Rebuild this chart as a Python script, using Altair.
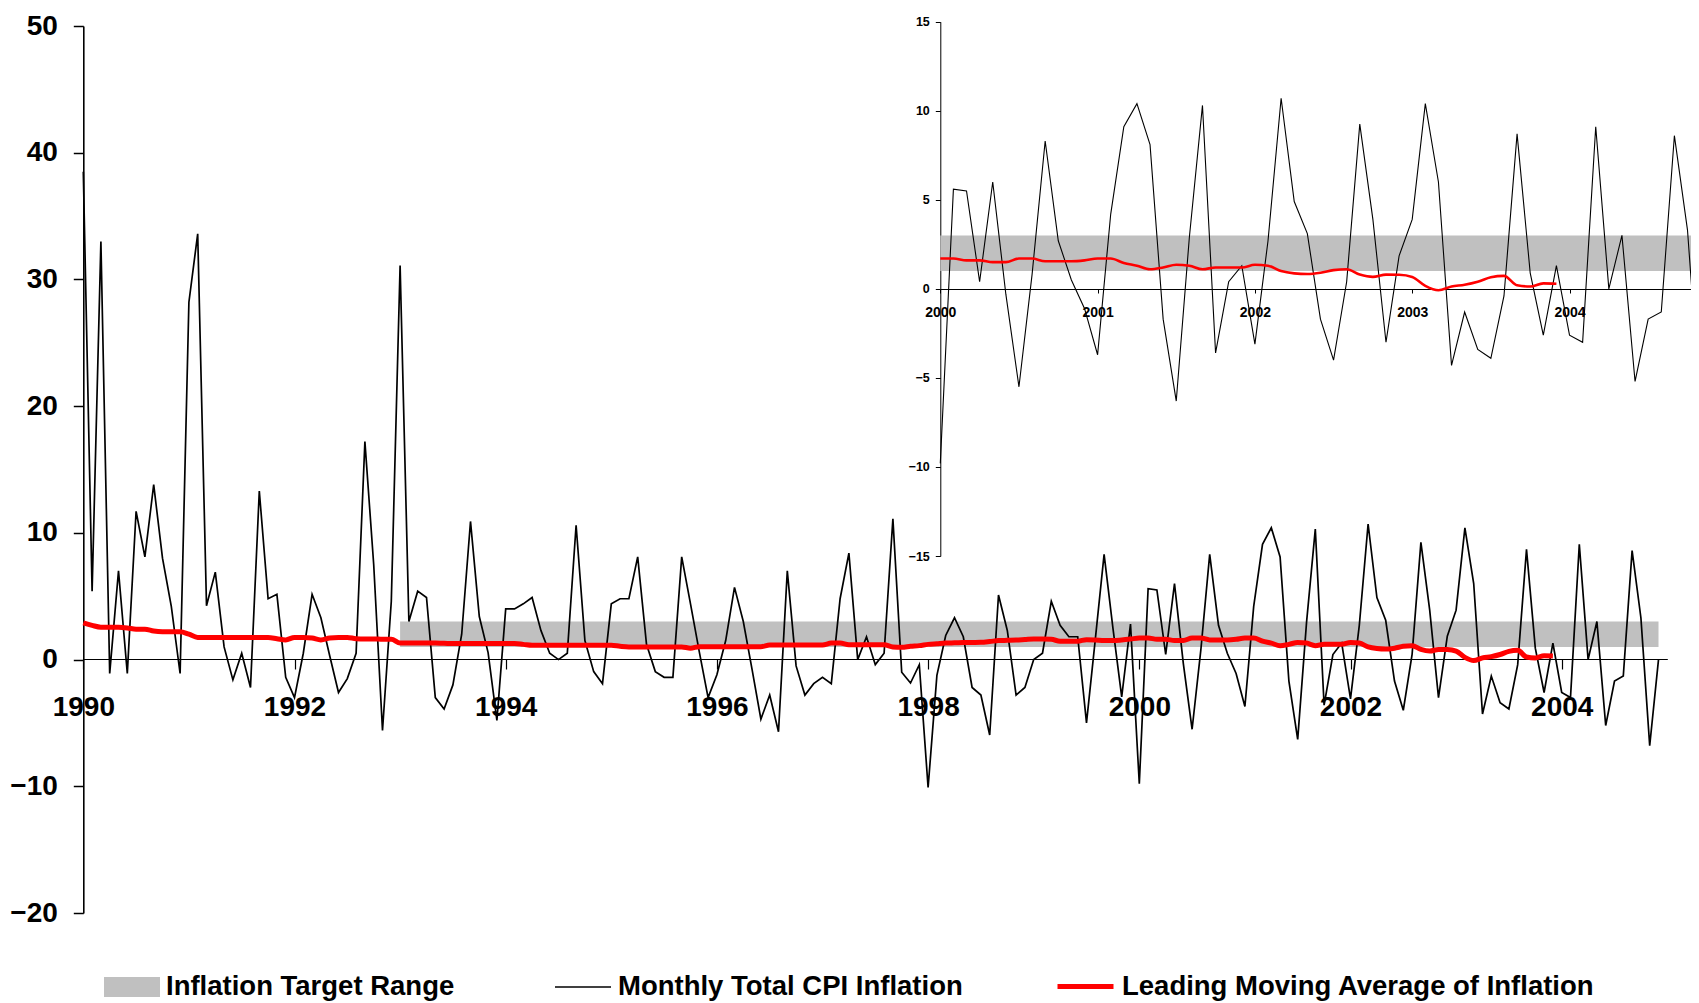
import altair as alt
import pandas as pd

# ---------------- data ----------------
START_YEAR = 1990

cpi_1990 = [38.5, 5.4, 33.0, -1.1, 7.0, -1.1, 11.7, 8.1, 13.8, 8.0, 4.2, -1.1]
cpi_1991 = [28.2, 33.6, 4.25, 6.9, 1.0, -1.6, 0.5, -2.2, 13.3, 4.8, 5.15, -1.4]
cpi_1992 = [-3.0, 0.5, 5.15, 3.3, 0.3, -2.6, -1.5, 0.5, 17.2, 7.5, -5.6, 4.6]
cpi_1993 = [31.1, 3.0, 5.4, 4.9, -3.0, -3.9, -2.0, 2.0, 10.9, 3.4, 0.55, -4.8]
cpi_1994 = [4.0, 4.0, 4.4, 4.9, 2.3, 0.5, 0.0, 0.5, 10.6, 1.5, -0.95, -1.9]
cpi_1995 = [4.4, 4.8, 4.8, 8.1, 1.2, -0.95, -1.4, -1.4, 8.1, 4.4, 0.6, -3.0]
cpi_1996 = [-1.2, 1.5, 5.7, 3.0, -0.8, -4.7, -2.8, -5.7, 7.0, -0.5, -2.8, -1.9]
cpi_1997 = [-1.4, -1.9, 4.8, 8.4, 0.0, 1.8, -0.4, 0.5, 11.1, -1.0, -1.85, -0.4]
cpi_1998 = [-10.1, -1.25, 1.9, 3.3, 1.8, -2.2, -2.8, -5.95, 5.1, 2.3, -2.8, -2.2]
cpi_1999 = [0.0, 0.5, 4.6, 2.7, 1.8, 1.8, -5.0, 1.6, 8.3, 2.5, -2.95, 2.8]
cpi_2000 = [-9.8, 5.6, 5.5, 0.4, 6.0, -0.3, -5.5, 0.8, 8.3, 2.7, 0.5, -1.1]
cpi_2001 = [-3.7, 4.2, 9.1, 10.4, 8.1, -1.7, -6.3, 2.9, 10.3, -3.6, 0.4, 1.3]
cpi_2002 = [-3.1, 2.7, 10.7, 4.9, 3.1, -1.7, -4.0, 0.4, 9.25, 3.9, -3.0, 1.85]
cpi_2003 = [3.9, 10.4, 6.0, -4.3, -1.3, -3.4, -3.9, -0.4, 8.7, 0.9, -2.6, 1.3]
cpi_2004 = [-2.6, -3.0, 9.1, 0.0, 3.0, -5.2, -1.7, -1.3, 8.6, 3.3, -6.8, 0.0]

ma_1990 = [2.9, 2.7, 2.55, 2.55, 2.55, 2.5, 2.4, 2.4, 2.25, 2.2, 2.2, 2.2]
ma_1991 = [2.0, 1.75, 1.74, 1.74, 1.74, 1.74, 1.74, 1.74, 1.74, 1.74, 1.65, 1.55]
ma_1992 = [1.75, 1.75, 1.7, 1.55, 1.7, 1.75, 1.75, 1.65, 1.63, 1.63, 1.6, 1.6]
ma_1993 = [1.3, 1.3, 1.3, 1.3, 1.3, 1.28, 1.27, 1.26, 1.26, 1.26, 1.26, 1.26]
ma_1994 = [1.26, 1.26, 1.2, 1.13, 1.13, 1.13, 1.13, 1.13, 1.13, 1.13, 1.13, 1.13]
ma_1995 = [1.13, 1.05, 1.0, 1.0, 1.0, 1.0, 1.0, 1.0, 1.0, 0.9, 1.02, 1.02]
ma_1996 = [1.02, 1.02, 1.02, 1.02, 1.02, 1.02, 1.15, 1.15, 1.15, 1.15, 1.15, 1.15]
ma_1997 = [1.15, 1.3, 1.3, 1.17, 1.17, 1.17, 1.17, 1.17, 1.0, 0.97, 1.05, 1.1]
ma_1998 = [1.2, 1.25, 1.3, 1.32, 1.34, 1.35, 1.36, 1.42, 1.5, 1.52, 1.54, 1.58]
ma_1999 = [1.62, 1.62, 1.6, 1.45, 1.45, 1.45, 1.57, 1.55, 1.5, 1.5, 1.55, 1.62]
ma_2000 = [1.7, 1.7, 1.6, 1.6, 1.5, 1.5, 1.7, 1.7, 1.55, 1.55, 1.55, 1.6]
ma_2001 = [1.7, 1.7, 1.45, 1.3, 1.1, 1.2, 1.35, 1.3, 1.1, 1.2, 1.2, 1.2]
ma_2002 = [1.35, 1.3, 1.0, 0.87, 0.83, 0.9, 1.05, 1.1, 0.8, 0.67, 0.8, 0.79]
ma_2003 = [0.67, 0.17, -0.08, 0.13, 0.23, 0.4, 0.65, 0.73, 0.2, 0.13, 0.31, 0.29]

target_low = 1.0
target_high = 3.0
band_start_month = 36      # Jan 1993
inset_start_month = 120    # Jan 2000
inset_end_month = 178      # last month visible in the inset

main_x_ticks = [1990, 1992, 1994, 1996, 1998, 2000, 2002, 2004]
main_y_ticks = [-20, -10, 0, 10, 20, 30, 40, 50]
inset_x_ticks = [2000, 2001, 2002, 2003, 2004]
inset_y_ticks = [-15, -10, -5, 0, 5, 10, 15]

LBL_BAND = "Inflation Target Range"
LBL_CPI = "Monthly Total CPI Inflation"
LBL_MA = "Leading Moving Average of Inflation"

cpi = (cpi_1990 + cpi_1991 + cpi_1992 + cpi_1993 + cpi_1994 + cpi_1995 + cpi_1996 +
       cpi_1997 + cpi_1998 + cpi_1999 + cpi_2000 + cpi_2001 + cpi_2002 + cpi_2003 + cpi_2004)
ma = (ma_1990 + ma_1991 + ma_1992 + ma_1993 + ma_1994 + ma_1995 + ma_1996 + ma_1997 +
      ma_1998 + ma_1999 + ma_2000 + ma_2001 + ma_2002 + ma_2003)

t = [START_YEAR + i / 12 for i in range(len(cpi))]

df_cpi = pd.DataFrame({"t": t, "v": cpi, "series": LBL_CPI})
df_ma = pd.DataFrame({"t": t[:len(ma)], "v": ma, "series": LBL_MA})
df_band = pd.DataFrame({"t": t[band_start_month:], "lo": target_low, "hi": target_high,
                        "series": LBL_BAND})
df_cpi_in = df_cpi.iloc[inset_start_month:inset_end_month + 1]
df_ma_in = df_ma.iloc[inset_start_month:]
df_band_in = pd.DataFrame({"t": t[inset_start_month:inset_end_month + 1],
                           "lo": target_low, "hi": target_high})

# ---------------- layout (pixels, view coordinates) ----------------
W, H = 1683, 995
FONT = "Liberation Sans"
MAIN_X_RANGE = [75.3, 1659.3]
MAIN_Y_RANGE = [905, 18]
MAIN_ZERO_Y = 651
INSET_X_RANGE = [932.3, 1692.6]
INSET_Y_RANGE = [548, 13.7]
INSET_ZERO_Y = 281
LEG_Y = 977
LEG_SIZE = 3136

main_xs = alt.Scale(domain=[1990, 2005], range=MAIN_X_RANGE, nice=False, zero=False)
main_ys = alt.Scale(domain=[-20, 50], range=MAIN_Y_RANGE, nice=False, zero=False)
inset_xs = alt.Scale(domain=[2000, 2004 + 10 / 12], range=INSET_X_RANGE, nice=False, zero=False)
inset_ys = alt.Scale(domain=[-15, 15], range=INSET_Y_RANGE, nice=False, zero=False)

main_x_axis = alt.Axis(values=main_x_ticks, format="d", orient="bottom",
                       offset=-(H - MAIN_ZERO_Y), tickSize=10, tickWidth=1.2, tickColor="black",
                       domainColor="black", domainWidth=1.2, labelFont=FONT, labelFontSize=28,
                       labelFontWeight="bold", labelColor="black", labelPadding=24,
                       labelFlush=False, labelOverlap=False, grid=False, title=None)
main_y_axis = alt.Axis(values=main_y_ticks, orient="left", offset=-MAIN_X_RANGE[0],
                       tickSize=10, tickWidth=1.5, tickColor="black", domainColor="black",
                       domainWidth=1.6, labelFont=FONT, labelFontSize=28, labelFontWeight="bold",
                       labelColor="black", labelPadding=16, labelFlush=False,
                       labelOverlap=False, grid=False, title=None)
inset_x_axis = alt.Axis(values=inset_x_ticks, format="d", orient="bottom",
                        offset=-(H - INSET_ZERO_Y), tickSize=4, tickWidth=1, tickColor="black",
                        domainColor="black", domainWidth=1, labelFont=FONT, labelFontSize=14,
                        labelFontWeight="bold", labelColor="black", labelPadding=12,
                        labelFlush=False, labelOverlap=False, grid=False, title=None)
inset_y_axis = alt.Axis(values=inset_y_ticks, orient="left", offset=-INSET_X_RANGE[0],
                        tickSize=5, tickWidth=1, tickColor="black", domainColor="black",
                        domainWidth=1, labelFont=FONT, labelFontSize=12.5,
                        labelFontWeight="bold", labelColor="black", labelPadding=6,
                        labelFlush=False, labelOverlap=False, grid=False, title=None)


def legend(x, dy, **kw):
    r = LEG_SIZE ** 0.5 / 2
    return alt.Legend(orient="none", legendX=x, legendY=LEG_Y - r + dy, title=None, padding=0,
                      symbolSize=LEG_SIZE, labelFont=FONT, labelFontSize=27.5,
                      labelFontWeight="bold", labelColor="black", labelLimit=900,
                      labelOffset=6, **kw)


main_band = alt.Chart(df_band).mark_area(opacity=1).encode(
    x=alt.X("t:Q", scale=main_xs, axis=main_x_axis),
    y=alt.Y("lo:Q", scale=main_ys, axis=main_y_axis),
    y2="hi:Q",
    fill=alt.Fill("series:N", scale=alt.Scale(domain=[LBL_BAND], range=["#C0C0C0"]),
                  legend=legend(96, 2, symbolType="M-1,-0.36L1,-0.36L1,0.36L-1,0.36Z",
                                symbolStrokeWidth=0, symbolOpacity=1)),
)
main_line = alt.Chart(df_cpi).mark_line(strokeWidth=1.7).encode(
    x=alt.X("t:Q", scale=main_xs, axis=main_x_axis),
    y=alt.Y("v:Q", scale=main_ys, axis=main_y_axis),
    stroke=alt.Stroke("series:N", scale=alt.Scale(domain=[LBL_CPI], range=["#000000"]),
                      legend=legend(546, 1, symbolType="stroke", symbolStrokeWidth=1.6)),
)
main_ma = alt.Chart(df_ma).mark_line(strokeWidth=5, interpolate="monotone").encode(
    x=alt.X("t:Q", scale=main_xs, axis=main_x_axis),
    y=alt.Y("v:Q", scale=main_ys, axis=main_y_axis),
    color=alt.Color("series:N", scale=alt.Scale(domain=[LBL_MA], range=["#FF0000"]),
                    legend=legend(1047, -1, symbolType="stroke", symbolStrokeWidth=5)),
)
main = alt.layer(main_band, main_line, main_ma)

inset_band = alt.Chart(df_band_in).mark_area(opacity=1, color="#C0C0C0").encode(
    x=alt.X("t:Q", scale=inset_xs, axis=inset_x_axis),
    y=alt.Y("lo:Q", scale=inset_ys, axis=inset_y_axis),
    y2="hi:Q",
)
inset_line = alt.Chart(df_cpi_in).mark_line(strokeWidth=1.1, color="#000000").encode(
    x=alt.X("t:Q", scale=inset_xs, axis=inset_x_axis),
    y=alt.Y("v:Q", scale=inset_ys, axis=inset_y_axis),
)
inset_ma = alt.Chart(df_ma_in).mark_line(strokeWidth=2.6, color="#FF0000",
                                          interpolate="monotone").encode(
    x=alt.X("t:Q", scale=inset_xs, axis=inset_x_axis),
    y=alt.Y("v:Q", scale=inset_ys, axis=inset_y_axis),
)
inset = alt.layer(inset_band, inset_line, inset_ma)

chart = alt.layer(main, inset).resolve_scale(
    x="independent", y="independent"
).properties(
    width=W, height=H, autosize=alt.AutoSizeParams(type="none"), padding=0,
    background="white",
).configure_view(stroke=None)

chart.save("out.html", embed_options={"renderer": "svg", "actions": False})
